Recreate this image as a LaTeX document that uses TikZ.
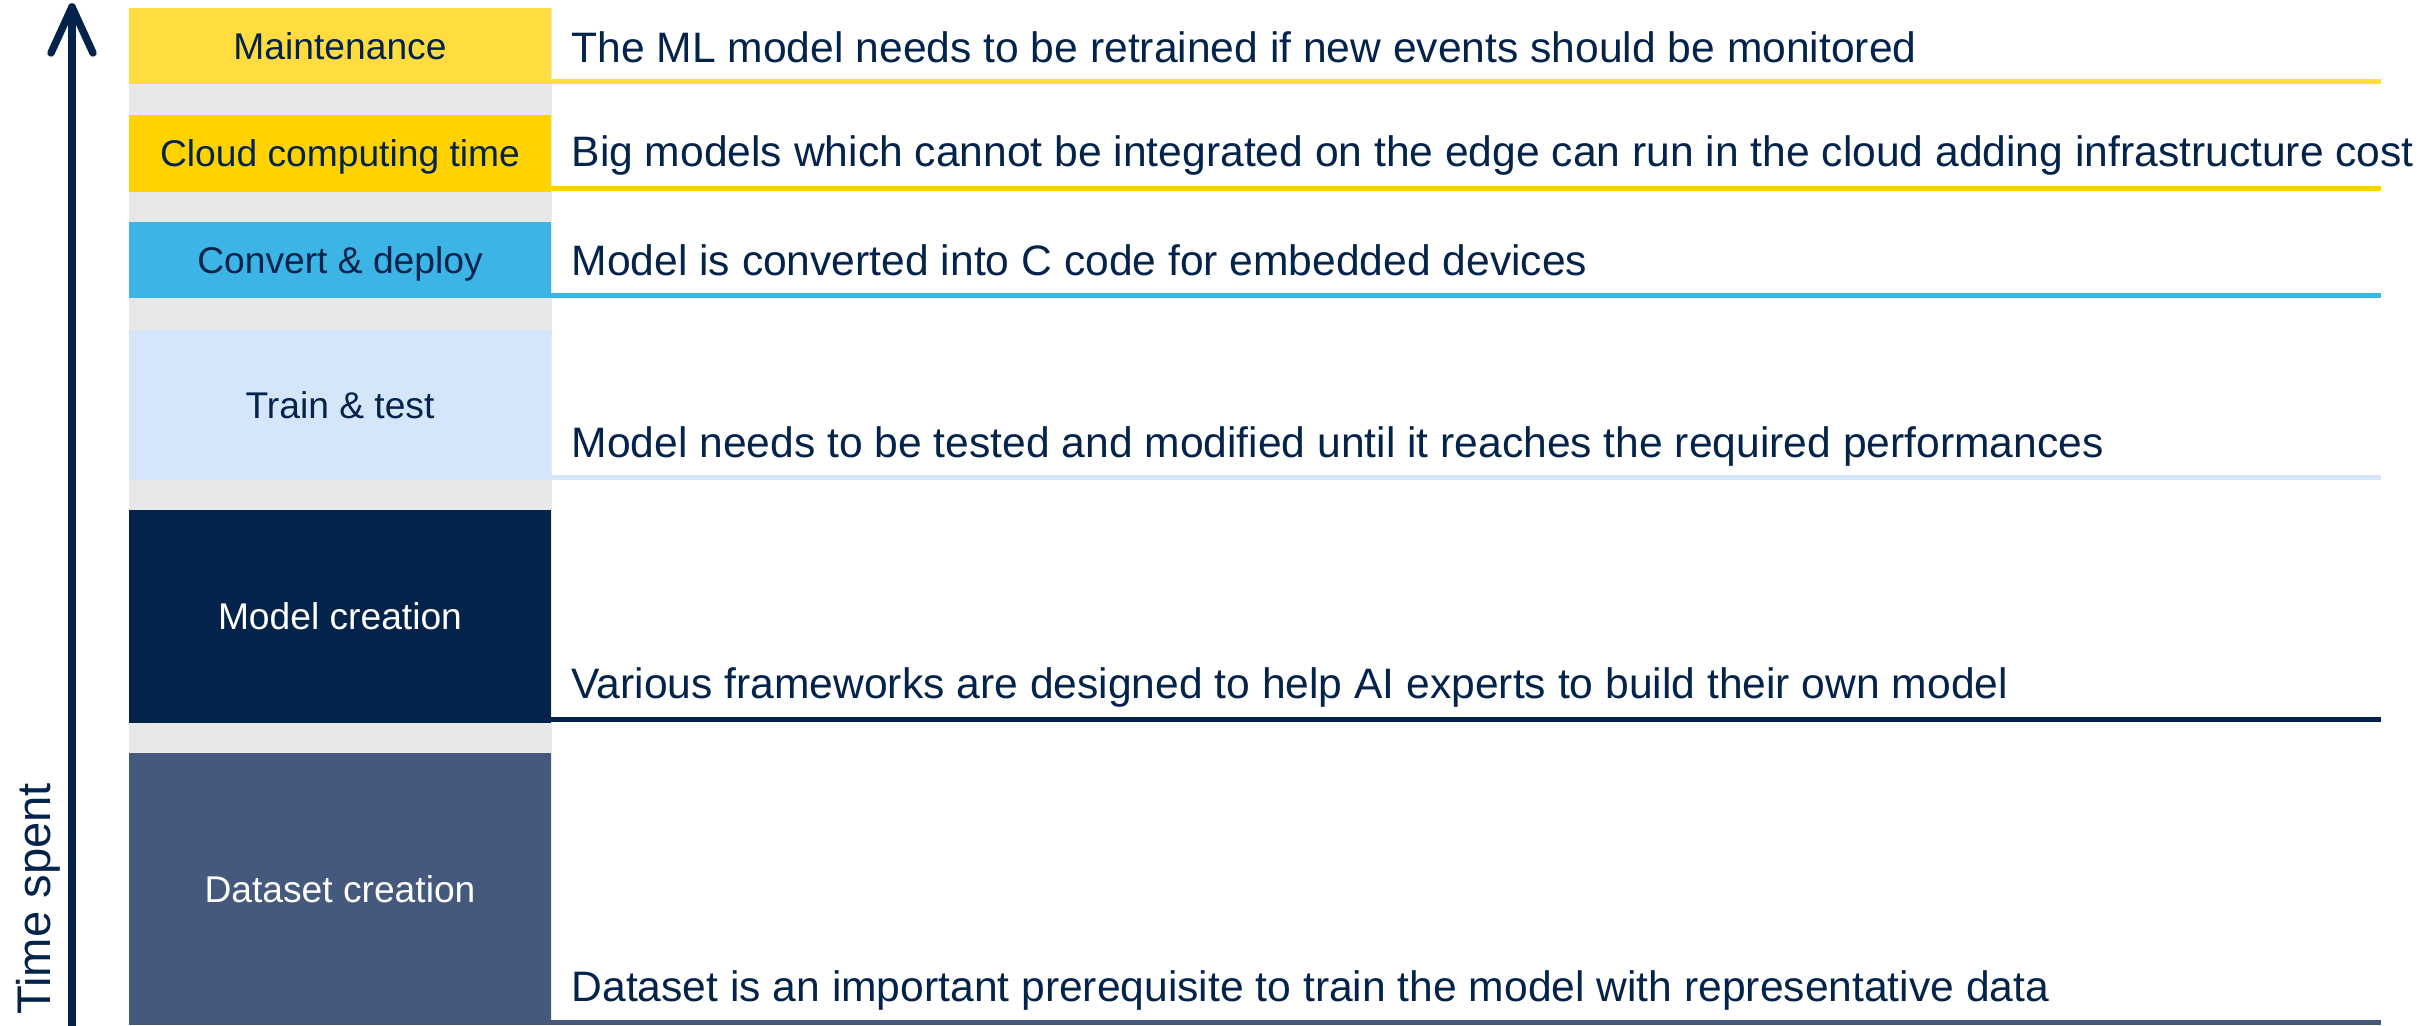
\documentclass[tikz,border=0pt]{standalone}
\usepackage{fontspec}
\setmainfont{Liberation Sans}
\definecolor{stnavy}{HTML}{03234B}
\definecolor{stdata}{HTML}{44597B}
\definecolor{stlight}{HTML}{D5E6FA}
\definecolor{stblue}{HTML}{3CB4E6}
\definecolor{stgold}{HTML}{FFD200}
\definecolor{stsun}{HTML}{FFDC40}
\definecolor{stgray}{HTML}{E8E8E8}
\begin{document}
\begin{tikzpicture}[x=0.5pt,y=-0.5pt,
  stage/.style={inner sep=0pt, outer sep=0pt, minimum width=422.9*0.5pt,
    font=\fontsize{18.6}{22}\selectfont, text=stnavy,
    text height=13.3pt, text depth=0pt},
  note/.style={anchor=base west, inner sep=0pt, outer sep=0pt,
    font=\fontsize{21.3}{25}\selectfont, text=stnavy},
  underline/.style={line width=2.5pt}
]
\useasboundingbox (0,0) rectangle (2429,1025);

% grey column behind the stage boxes
\fill[stgray] (128.6,7.5) rectangle (551.5,1025);

% stage boxes, bottom of the stack is the first step
\node[stage, fill=stsun,   minimum height=76.8*0.5pt]  (mt) at (340,45.9)   {Maintenance};
\node[stage, fill=stgold,  minimum height=76.7*0.5pt]  (cc) at (340,153.35) {Cloud computing time};
\node[stage, fill=stblue,  minimum height=76.3*0.5pt]  (cd) at (340,260.15) {Convert \& deploy};
\node[stage, fill=stlight, minimum height=150*0.5pt]   (tt) at (340,405)    {Train \& test};
\node[stage, fill=stnavy,  text=white, minimum height=212.7*0.5pt] (mc) at (340,616.35) {Model creation};
\node[stage, fill=stdata,  text=white, minimum height=272.3*0.5pt] (dc) at (340,888.85) {Dataset creation};

% descriptions
\node[note] (dmt) at (571.6,62)   {The ML model needs to be retrained if new events should be monitored};
\node[note] (dcc) at (571.6,166)  {Big models which cannot be integrated on the edge can run in the cloud adding infrastructure cost};
\node[note] (dcd) at (571.6,275)  {Model is converted into C code for embedded devices};
\node[note] (dtt) at (571.6,457)  {Model needs to be tested and modified until it reaches the required performances};
\node[note] (dmc) at (571.6,698)  {Various frameworks are designed to help AI experts to build their own model};
\node[note] (ddc) at (571.6,1001) {Dataset is an important prerequisite to train the model with representative data};

% underlines running from each box to the right edge
\coordinate (rend) at (2381,0);
\foreach \b/\c in {mt/stsun, cc/stgold, cd/stblue, tt/stlight, mc/stnavy, dc/stdata}{
  \draw[underline, \c] ([yshift=1.5pt]\b.south east) -- ([yshift=1.5pt]\b.south east -| rend);
}

% time axis
\coordinate (abot) at (72,1030);
\coordinate (atop) at (72,7);
\coordinate (awl) at (51,53);
\coordinate (awr) at (93,53);
\draw[stnavy, line width=3.75pt, line cap=round, line join=round] (abot) -- (atop);
\draw[stnavy, line width=3.75pt, line cap=round, line join=round] (awl) -- (atop) -- (awr);
\node[rotate=90, anchor=base west, inner sep=0pt, text=stnavy,
  font=\fontsize{23.6}{28}\selectfont] (axl) at (50,1015) {Time spent};
\end{tikzpicture}
\end{document}
